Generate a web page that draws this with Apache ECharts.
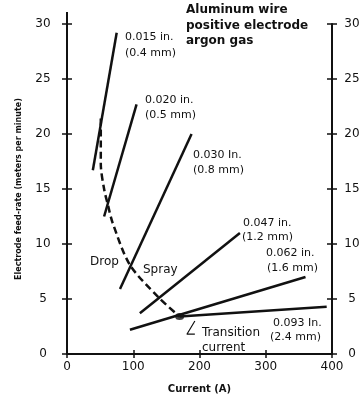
<!DOCTYPE html>
<html>
<head>
<meta charset="utf-8">
<script src="https://cdn.jsdelivr.net/npm/echarts@6/dist/echarts.min.js"></script>
<style>
  html, body { margin: 0; background: #fff; }
  #chart { width: 363px; height: 399px; }
</style>
</head>
<body>
<div id="chart"></div>
<script>
// axis ticks
const xTicks = [0, 100, 200, 300, 400];
const yTicks = [0, 5, 10, 15, 20, 25, 30];

// wire lines [current A, feed-rate m/min]
const wire015 = [[39, 16.7], [75, 29.2]];
const wire020 = [[56, 12.5], [105, 22.7]];
const wire030 = [[80, 5.9], [188, 20.0]];
const wire047 = [[110, 3.7], [261, 11.0]];
const wire062 = [[95, 2.2], [360, 7.0]];
const wire093 = [[170, 3.4], [392, 4.3]];

// drop -> spray transition curve
const transition = [[51, 21.4], [51, 17.3], [56, 15.0], [62, 13.5], [69, 11.9], [95, 8.1], [139, 5.1], [170, 3.4]];
const transitionDot = [[170, 3.4]];
const pointer = [[193, 3.0], [181, 1.8], [193, 1.8]];

const wireNames = ['0.015 in.', '0.020 in.', '0.030 In.', '0.047 in.', '0.062 in.', '0.093 In.'];
const wireMm = ['(0.4 mm)', '(0.5 mm)', '(0.8 mm)', '(1.2 mm)', '(1.6 mm)', '(2.4 mm)'];
const titleLines = ['Aluminum wire', 'positive electrode', 'argon gas'];

const ink = '#111';
const font = 'DejaVu Sans';

const line = (data, extra) => Object.assign({
  type: 'line', data, symbol: 'none', silent: true,
  lineStyle: {color: ink, width: 2.5}
}, extra || {});

const txt = (text, x, y, size, weight) => ({
  type: 'text', x, y,
  style: {text, fill: ink, font: (weight || 'normal') + ' ' + size + 'px "' + font + '"', textVerticalAlign: 'middle'}
});

const baseX = {
  type: 'value', min: xTicks[0], max: xTicks[xTicks.length - 1], interval: xTicks[1] - xTicks[0],
  splitLine: {show: false}
};
const baseY = {
  type: 'value', min: yTicks[0], max: yTicks[yTicks.length - 1], interval: yTicks[1] - yTicks[0],
  splitLine: {show: false}
};

const chart = echarts.init(document.getElementById('chart'));
chart.setOption({
  animation: false,
  backgroundColor: '#fff',
  grid: {left: 67, right: 31, top: 24, bottom: 42},
  xAxis: [
    Object.assign({}, baseX, {
      position: 'bottom',
      axisLine: {lineStyle: {color: ink, width: 2}},
      axisTick: {length: 4, lineStyle: {color: ink, width: 1.5}},
      axisLabel: {color: ink, fontSize: 12, fontFamily: font, margin: 7},
      name: 'Current (A)', nameLocation: 'middle', nameGap: 30,
      nameTextStyle: {color: ink, fontSize: 10, fontWeight: 'bold', fontFamily: font}
    }),
    Object.assign({}, baseX, {
      position: 'bottom',
      axisLine: {show: false},
      axisTick: {inside: true, length: 4, lineStyle: {color: ink, width: 1.5}},
      axisLabel: {show: false}
    })
  ],
  yAxis: [
    Object.assign({}, baseY, {
      position: 'left',
      axisLine: {lineStyle: {color: ink, width: 2}, symbol: ['none', 'rect'], symbolSize: [2, 12], symbolOffset: [0, 6]},
      axisTick: {length: 5, lineStyle: {color: ink, width: 1.5}},
      axisLabel: {color: ink, fontSize: 12, fontFamily: font, align: 'center', margin: 24},
      name: 'Electrode feed-rate (meters per minute)', nameLocation: 'middle', nameGap: 44,
      nameTextStyle: {color: ink, fontSize: 8, fontWeight: 'bold', fontFamily: font}
    }),
    Object.assign({}, baseY, {
      position: 'left',
      axisLine: {show: false},
      axisTick: {inside: true, length: 5, lineStyle: {color: ink, width: 1.5}},
      axisLabel: {show: false}
    }),
    Object.assign({}, baseY, {
      position: 'right',
      axisLine: {show: true, lineStyle: {color: ink, width: 2}},
      axisTick: {show: true, length: 5, lineStyle: {color: ink, width: 1.5}},
      axisLabel: {color: ink, fontSize: 12, fontFamily: font, align: 'center', margin: 20}
    }),
    Object.assign({}, baseY, {
      position: 'right',
      axisLine: {show: false},
      axisTick: {show: true, inside: true, length: 5, lineStyle: {color: ink, width: 1.5}},
      axisLabel: {show: false}
    })
  ],
  series: [
    line(wire015), line(wire020), line(wire030),
    line(wire047), line(wire062), line(wire093),
    line(transition, {smooth: 0.3, lineStyle: {color: ink, width: 2.5, type: [7, 4]}}),
    line(pointer, {lineStyle: {color: ink, width: 1.2}}),
    {type: 'scatter', data: transitionDot, symbol: 'circle', symbolSize: [9, 7], itemStyle: {color: ink}, silent: true}
  ],
  graphic: [
    txt(titleLines[0], 186, 10, 12, 'bold'),
    txt(titleLines[1], 186, 26, 12, 'bold'),
    txt(titleLines[2], 186, 41, 12, 'bold'),
    txt(wireNames[0], 125, 37, 11), txt(wireMm[0], 125, 53, 11),
    txt(wireNames[1], 145, 100, 11), txt(wireMm[1], 145, 115, 11),
    txt(wireNames[2], 193, 155, 11), txt(wireMm[2], 193, 170, 11),
    txt(wireNames[3], 243, 223, 11), txt(wireMm[3], 242, 237, 11),
    txt(wireNames[4], 266, 253, 11), txt(wireMm[4], 267, 268, 11),
    txt(wireNames[5], 273, 323, 11), txt(wireMm[5], 270, 337, 11),
    txt('Drop', 90, 262, 12), txt('Spray', 143, 270, 12),
    txt('Transition', 202, 333, 12), txt('current', 202, 348, 12)
  ]
});
</script>
</body>
</html>
